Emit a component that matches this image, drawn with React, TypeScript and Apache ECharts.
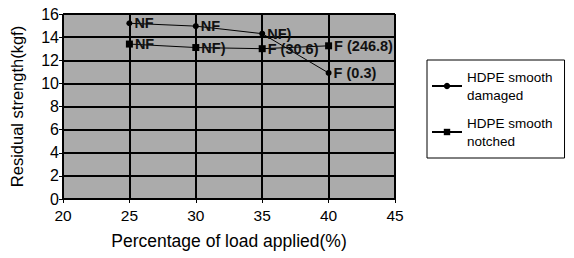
import React, { useEffect, useRef } from "react";
import * as echarts from "echarts";

const xValues = [25, 30, 35, 40];
const damaged = [15.2, 14.95, 14.3, 10.9];
const damagedLabels = ["NF", "NF", "NF)", "F (0.3)"];
const notched = [13.4, 13.1, 13.0, 13.25];
const notchedLabels = ["NF", "NF)", "F (30.6)", "F (246.8)"];
const seriesNames = ["HDPE smooth\ndamaged", "HDPE smooth\nnotched"];

const FONT = "Liberation Sans, Arial, sans-serif";

export default function App() {
  const ref = useRef<HTMLDivElement>(null);
  useEffect(() => {
    if (!ref.current) return;
    const chart = echarts.init(ref.current, null, { renderer: "svg" });
    const mk = (vals: number[], labels: string[]) =>
      vals.map((v, i) => ({
        value: [xValues[i], v],
        label: {
          show: true,
          position: "right",
          distance: 2,
          formatter: labels[i],
          color: "#111",
          fontWeight: "bold",
          fontSize: 14.5,
          fontFamily: FONT,
        },
      }));
    chart.setOption({
      animation: false,
      textStyle: { fontFamily: FONT },
      grid: {
        left: 62,
        right: 179,
        top: 14,
        bottom: 59,
        show: true,
        backgroundColor: "#ababab",
        borderColor: "#000",
        borderWidth: 1,
      },
      legend: {
        orient: "vertical",
        left: 427,
        top: 60,
        width: 145,
        padding: [8, 12, 8, 4],
        itemGap: 10,
        itemWidth: 30,
        itemHeight: 8,
        borderColor: "#000",
        borderWidth: 1,
        backgroundColor: "#fff",
        textStyle: { fontSize: 13.5, color: "#000", fontFamily: FONT, lineHeight: 18 },
        data: seriesNames,
      },
      xAxis: {
        type: "value",
        min: 20,
        max: 45,
        interval: 5,
        name: "Percentage of load applied(%)",
        nameLocation: "middle",
        nameGap: 33,
        nameTextStyle: { fontSize: 17.5, color: "#000", fontFamily: FONT },
        axisLine: { show: true, lineStyle: { color: "#000", width: 2 } },
        axisTick: { show: true, length: 4, lineStyle: { color: "#000" } },
        axisLabel: { fontSize: 15.5, color: "#000", margin: 8 },
        splitLine: { show: true, lineStyle: { color: "#000", width: 2 } },
      },
      yAxis: {
        type: "value",
        min: 0,
        max: 16,
        interval: 2,
        name: "Residual strength(kgf)",
        nameLocation: "middle",
        nameGap: 38,
        nameTextStyle: { fontSize: 16.5, color: "#000", fontFamily: FONT },
        axisLine: { show: true, lineStyle: { color: "#000", width: 1 } },
        axisTick: { show: true, length: 4, lineStyle: { color: "#000" } },
        axisLabel: { fontSize: 16, color: "#000", margin: 4 },
        splitLine: { show: true, lineStyle: { color: "#000", width: 2 } },
      },
      series: [
        {
          name: seriesNames[0],
          type: "line",
          data: mk(damaged, damagedLabels),
          symbol: "circle",
          symbolSize: 6,
          lineStyle: { color: "#000", width: 1 },
          itemStyle: { color: "#000" },
        },
        {
          name: seriesNames[1],
          type: "line",
          data: mk(notched, notchedLabels),
          symbol: "rect",
          symbolSize: 7,
          lineStyle: { color: "#000", width: 1 },
          itemStyle: { color: "#000" },
        },
      ],
    });
    return () => chart.dispose();
  }, []);
  return <div ref={ref} style={{ width: 574, height: 258, position: "absolute", left: 0, top: 0 }} />;
}
